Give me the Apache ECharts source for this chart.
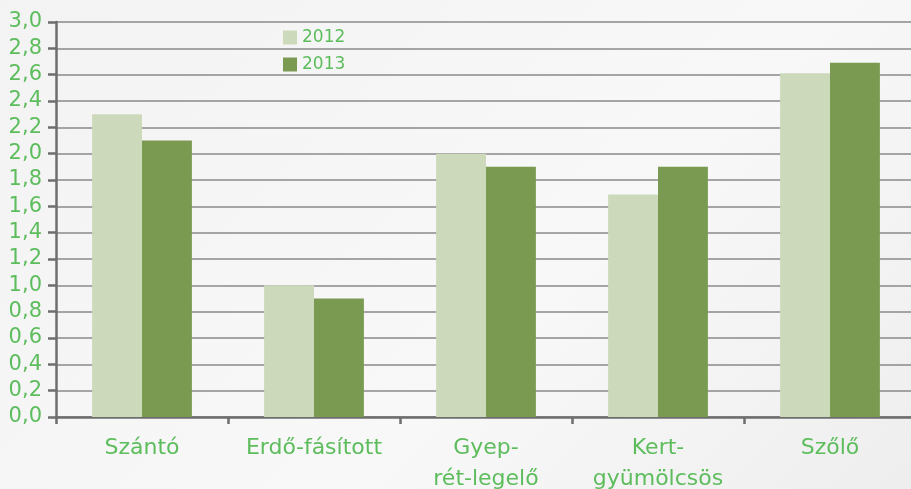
<!DOCTYPE html>
<html><head><meta charset="utf-8">
<script src="https://cdn.jsdelivr.net/npm/echarts@6/dist/echarts.min.js"></script>
<style>html,body{margin:0;padding:0;}#c{width:911px;height:489px;background:linear-gradient(135deg,#f3f3f3 0%,#f8f8f8 60%,#eeeeee 100%);}</style>
</head><body><div id="c"></div>
<script>
const categories = ['Szántó', 'Erdő-fásított', 'Gyep-\nrét-legelő', 'Kert-\ngyümölcsös', 'Szőlő'];
const values2012 = [2.3, 1.0, 2.0, 1.69, 2.61];
const values2013 = [2.1, 0.9, 1.9, 1.9, 2.69];
const seriesNames = ['2012', '2013'];
const green = '#5dbd5d';
const font = 'DejaVu Sans';
const chart = echarts.init(document.getElementById('c'));
chart.setOption({
  animation: false,
  textStyle: { fontFamily: font },
  grid: { left: 56, right: -5, top: 22, bottom: 72, containLabel: false, outerBoundsMode: 'none' },
  legend: {
    orient: 'vertical', left: 278, top: 24, itemWidth: 14, itemHeight: 14, itemGap: 10,
    icon: 'rect',
    textStyle: { color: green, fontSize: 17, fontFamily: font },
    data: seriesNames
  },
  xAxis: {
    type: 'category', data: categories,
    axisLine: { lineStyle: { color: '#6e6e6e', width: 2.5 } },
    axisTick: { show: true, length: 7, lineStyle: { color: '#6e6e6e', width: 2.5 } },
    axisLabel: { color: green, fontSize: 22, margin: 16, lineHeight: 31, interval: 0 }
  },
  yAxis: {
    type: 'value', min: 0, max: 3, interval: 0.2,
    axisLine: { show: true, lineStyle: { color: '#6e6e6e', width: 2.5 } },
    axisTick: { show: true, length: 8, lineStyle: { color: '#6e6e6e', width: 2.5 } },
    splitLine: { lineStyle: { color: '#8a8a8a', width: 1.5 } },
    axisLabel: { color: green, fontSize: 21, margin: 14, lineHeight: 21, padding: [5, 0, 0, 0],
      formatter: v => v.toFixed(1).replace('.', ',') }
  },
  series: [
    { name: seriesNames[0], type: 'bar', data: values2012, barGap: '0%', barCategoryGap: '42%',
      itemStyle: { color: '#ccdabb' } },
    { name: seriesNames[1], type: 'bar', data: values2013, barGap: '0%', barCategoryGap: '42%',
      itemStyle: { color: '#7a9a52' } }
  ]
});
</script></body></html>
